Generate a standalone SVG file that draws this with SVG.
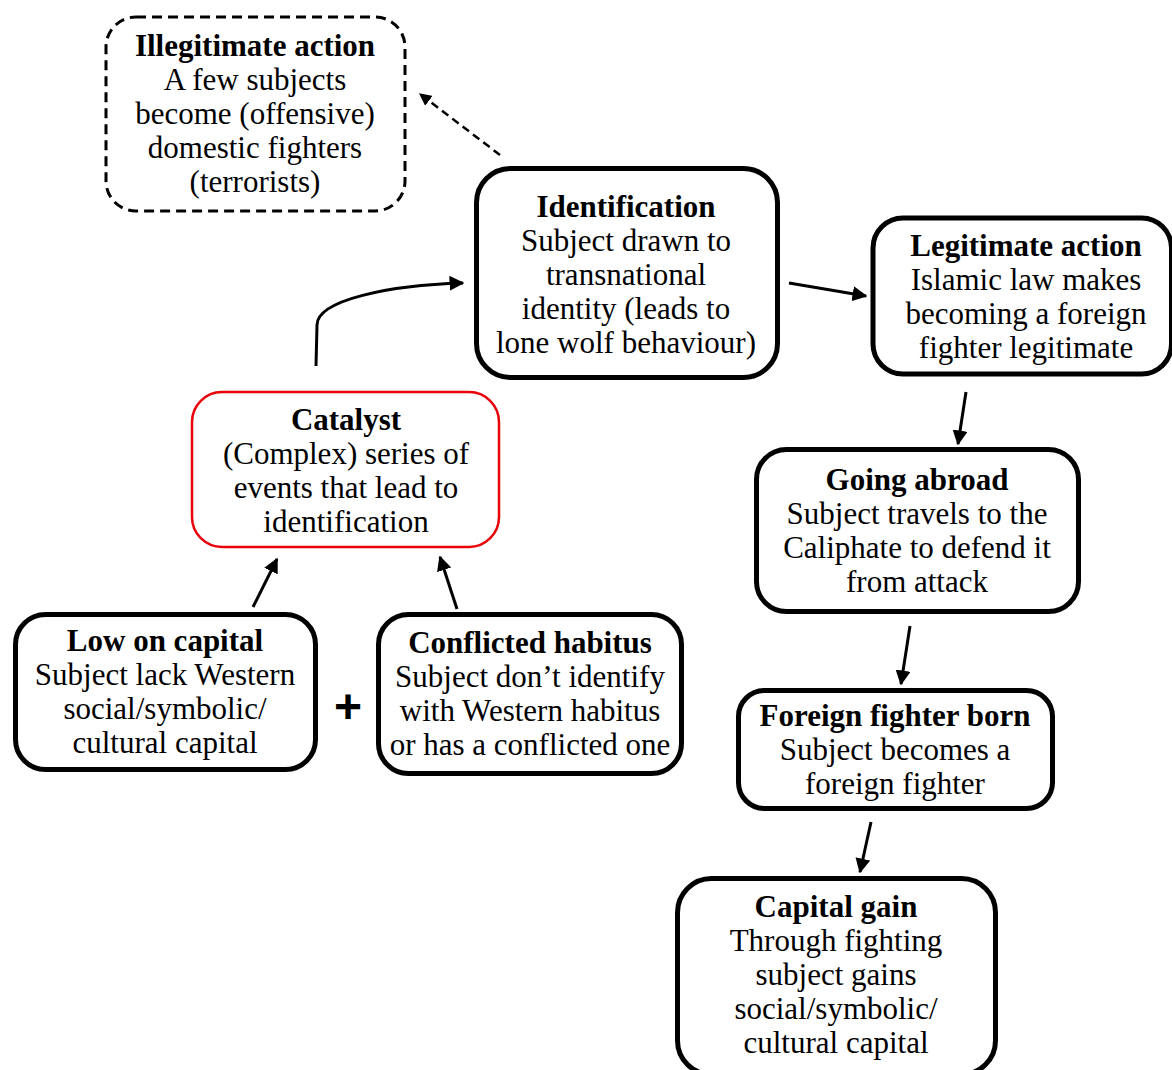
<svg xmlns="http://www.w3.org/2000/svg" width="1172" height="1070" viewBox="0 0 1172 1070">
<style>
  .box{fill:#fff;stroke:#000;stroke-width:5}
  .dash{fill:#fff;stroke:#000;stroke-width:3;stroke-dasharray:10 6}
  .red{fill:#fff;stroke:#e8000b;stroke-width:2.5}
  text{font-family:"Liberation Serif","Times New Roman",serif;font-size:31px;fill:#000;text-anchor:middle}
  .t{font-weight:bold}
  .c{fill:none;stroke:#000;stroke-width:3}
  .cd{fill:none;stroke:#000;stroke-width:2.5;stroke-dasharray:8 5}
</style>
<defs>
  <marker id="ah" viewBox="0 0 10 10" refX="9" refY="5" markerWidth="5" markerHeight="5" markerUnits="strokeWidth" orient="auto">
    <path d="M0,0 L10,5 L0,10 z" fill="#000"/>
  </marker>
</defs>
<rect width="1172" height="1070" fill="#fff"/>
<g id="connectors">
  <path class="cd" d="M500,155 L420,94" marker-end="url(#ah)"/>
  <path class="c" d="M316,366 L317,325 C317,300 390,285 463,283" marker-end="url(#ah)"/>
  <path class="c" d="M789,283 L866,296" marker-end="url(#ah)"/>
  <path class="c" d="M966,392 L958,444" marker-end="url(#ah)"/>
  <path class="c" d="M910,626 L901,684" marker-end="url(#ah)"/>
  <path class="c" d="M871,822 L860,872" marker-end="url(#ah)"/>
  <path class="c" d="M253,607 L277,559" marker-end="url(#ah)"/>
  <path class="c" d="M457,609 L440,557" marker-end="url(#ah)"/>
</g>
<g id="illegitimate">
  <rect class="dash" x="106" y="17" width="299" height="194" rx="30"/>
  <text class="t" x="255" y="56">Illegitimate action</text>
  <text x="255" y="90">A few subjects</text>
  <text x="255" y="124">become (offensive)</text>
  <text x="255" y="158">domestic fighters</text>
  <text x="255" y="192">(terrorists)</text>
</g>
<g id="identification">
  <rect class="box" x="476.5" y="168.5" width="301" height="209" rx="34"/>
  <text class="t" x="626" y="217">Identification</text>
  <text x="626" y="251">Subject drawn to</text>
  <text x="626" y="285">transnational</text>
  <text x="626" y="319">identity (leads to</text>
  <text x="626" y="353">lone wolf behaviour)</text>
</g>
<g id="legitimate">
  <rect class="box" x="873" y="218" width="298.5" height="156" rx="30"/>
  <text class="t" x="1026" y="256">Legitimate action</text>
  <text x="1026" y="290">Islamic law makes</text>
  <text x="1026" y="324">becoming a foreign</text>
  <text x="1026" y="358">fighter legitimate</text>
</g>
<g id="catalyst">
  <rect class="red" x="192" y="392" width="307" height="155" rx="30"/>
  <text class="t" x="346" y="430">Catalyst</text>
  <text x="346" y="464">(Complex) series of</text>
  <text x="346" y="498">events that lead to</text>
  <text x="346" y="532">identification</text>
</g>
<g id="low-capital">
  <rect class="box" x="15.5" y="614.5" width="300" height="155" rx="30"/>
  <text class="t" x="165" y="651">Low on capital</text>
  <text x="165" y="685">Subject lack Western</text>
  <text x="165" y="719">social/symbolic/</text>
  <text x="165" y="753">cultural capital</text>
</g>
<text class="t" x="348" y="723" style="font-family:'Liberation Sans',Arial,sans-serif;font-size:48px">+</text>
<g id="conflicted">
  <rect class="box" x="378.5" y="614.5" width="303" height="159" rx="30"/>
  <text class="t" x="530" y="653">Conflicted habitus</text>
  <text x="530" y="687">Subject don’t identify</text>
  <text x="530" y="721">with Western habitus</text>
  <text x="530" y="755">or has a conflicted one</text>
</g>
<g id="going-abroad">
  <rect class="box" x="756.5" y="449.5" width="322" height="162" rx="30"/>
  <text class="t" x="917" y="490">Going abroad</text>
  <text x="917" y="524">Subject travels to the</text>
  <text x="917" y="558">Caliphate to defend it</text>
  <text x="917" y="592">from attack</text>
</g>
<g id="foreign-fighter">
  <rect class="box" x="738.5" y="690.5" width="314" height="118" rx="26"/>
  <text class="t" x="895" y="726">Foreign fighter born</text>
  <text x="895" y="760">Subject becomes a</text>
  <text x="895" y="794">foreign fighter</text>
</g>
<g id="capital-gain">
  <rect class="box" x="677.5" y="878.5" width="318" height="196" rx="34"/>
  <text class="t" x="836" y="917">Capital gain</text>
  <text x="836" y="951">Through fighting</text>
  <text x="836" y="985">subject gains</text>
  <text x="836" y="1019">social/symbolic/</text>
  <text x="836" y="1053">cultural capital</text>
</g>
</svg>
